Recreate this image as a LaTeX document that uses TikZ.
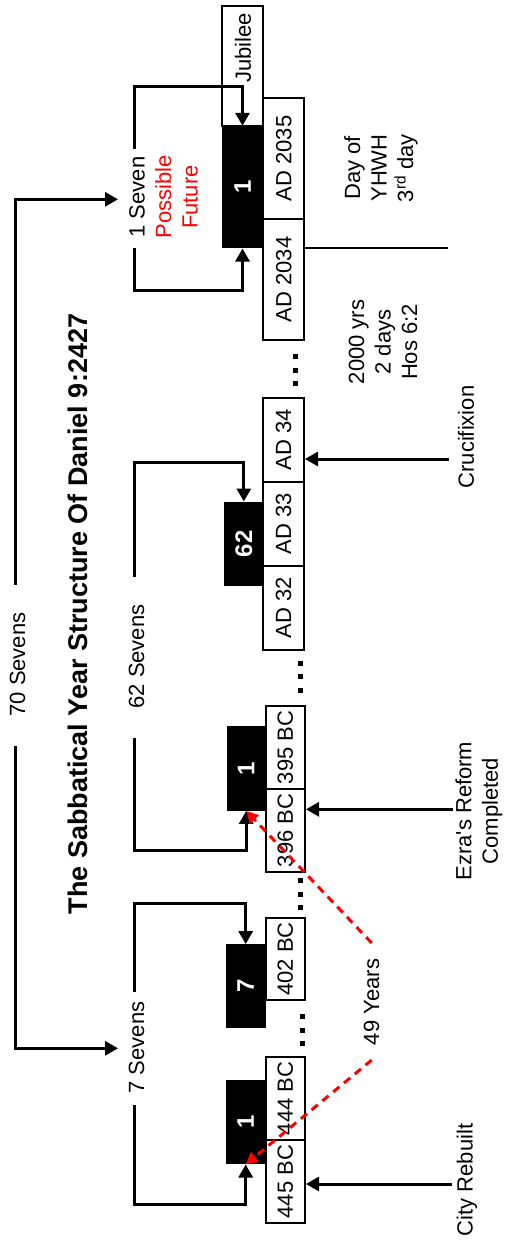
\documentclass[tikz,border=0pt]{standalone}
\usepackage{fontspec}
\setmainfont{Liberation Sans}
\usepackage{graphicx}
\usetikzlibrary{arrows.meta}
\begin{document}
\begin{tikzpicture}[x=1pt,y=-1pt,
  font=\fontsize{22}{26.5}\selectfont,
  blk/.style={fill=black,inner sep=0pt,text=white,font=\fontsize{24}{28}\selectfont\bfseries},
  valbox/.style={draw=black,line width=2pt,fill=white,inner sep=0pt},
  brk/.style={line width=3pt},
  brkarrow/.style={line width=3pt,-{Triangle[length=13pt,width=14pt]}},
  evt/.style={line width=3pt,-{Triangle[length=13pt,width=14pt]}},
  lbl/.style={rotate=90,inner sep=0pt,align=center},
  dotm/.style={fill=black,minimum size=5pt,inner sep=0pt},
  redarrow/.style={red,line width=3pt,dash pattern=on 8pt off 6pt,-{Triangle[length=12pt,width=12pt]}}
]
\useasboundingbox[fill=white] (0,0) rectangle (505,1243);

% black boxes
\node[blk,minimum width=41.6pt,minimum height=122.3pt] (b1) at (242.5,187.15) {\rotatebox{90}{1}};
\node[blk,minimum width=39pt,minimum height=84.3pt] (b62) at (243.8,543.85) {\rotatebox{90}{62}};
\node[blk,minimum width=39pt,minimum height=84.7pt] (b1b) at (246.2,768.35) {\rotatebox{90}{1}};
\node[blk,minimum width=40pt,minimum height=83.4pt] (b7) at (245.7,986) {\rotatebox{90}{7}};
\node[blk,minimum width=40pt,minimum height=84.3pt] (b1c) at (245.7,1122.15) {\rotatebox{90}{1}};

% value boxes
\node[valbox,minimum width=41.6pt,minimum height=120.3pt] (jub) at (242.5,65.85) {};
\node[lbl] (jubt) at (243,48) {Jubilee};
\node[valbox,minimum width=41pt,minimum height=121.3pt] (ad2035) at (283.8,158.35) {\rotatebox{90}{AD 2035}};
\node[valbox,minimum width=41pt,minimum height=121pt] (ad2034) at (283.8,279.5) {\rotatebox{90}{AD 2034}};
\node[valbox,minimum width=40.7pt,minimum height=84pt] (ad34) at (283.65,439.7) {\rotatebox{90}{AD 34}};
\node[valbox,minimum width=40.7pt,minimum height=84pt] (ad33) at (283.65,523.7) {\rotatebox{90}{AD 33}};
\node[valbox,minimum width=40.7pt,minimum height=84pt] (ad32) at (283.65,607.7) {\rotatebox{90}{AD 32}};
\node[valbox,minimum width=39.3pt,minimum height=83pt] (bc395) at (285.35,747.5) {\rotatebox{90}{395 BC}};
\node[valbox,minimum width=39.3pt,minimum height=82.7pt] (bc396) at (285.35,830.35) {\rotatebox{90}{396 BC}};
\node[valbox,minimum width=39.3pt,minimum height=82.3pt] (bc402) at (285.35,958.85) {\rotatebox{90}{402 BC}};
\node[valbox,minimum width=39.3pt,minimum height=83.3pt] (bc444) at (285.35,1098.35) {\rotatebox{90}{444 BC}};
\node[valbox,minimum width=39.3pt,minimum height=83.3pt] (bc445) at (285.35,1181.65) {\rotatebox{90}{445 BC}};

% dots
\foreach \i/\x/\y in {a1/295.5/356,a2/295.5/370,a3/295.5/383.5,
  b1/300.7/663.3,b2/300.7/676.8,b3/300.7/690.5,
  c1/300.7/880.7,c2/300.7/894,c3/300.7/907.7,
  d1/302.3/1016.5,d2/302.3/1030,d3/302.3/1043.3}
  \node[dotm] (dot\i) at (\x,\y) {};

% text labels
\node[lbl] (title) at (78,614) {\fontsize{27}{32}\selectfont\bfseries The Sabbatical Year Structure Of Daniel 9:2427};
\node[lbl] (t70) at (17.5,664.5) {70 Sevens};
\node[lbl] (t62) at (136.5,656.5) {62 Sevens};
\node[lbl] (t7) at (136.5,1047.5) {7 Sevens};
\node[lbl] (t1) at (163.5,197) {1 Seven\\\textcolor{red}{Possible}\\\textcolor{red}{Future}};
\node[lbl] (tday) at (381,168) {Day of\\YHWH\\3\textsuperscript{rd} day};
\node[lbl] (t2000) at (383,342) {2000 yrs\\2 days\\Hos 6:2};
\node[lbl] (tcruc) at (466,437) {Crucifixion};
\node[lbl] (tezra) at (479,811) {Ezra\textquotesingle s Reform\\Completed};
\node[lbl] (tcity) at (467,1180) {City Rebuilt};
\node[lbl] (t49) at (371.5,1002) {49 Years};

% 70 sevens bracket
\coordinate (c70a) at (15.7,585);
\coordinate (c70b) at (15.7,745.7);
\coordinate (c70tip1) at (118,199.3);
\coordinate (c70tip2) at (118,1048.3);
\draw[brkarrow] (c70a) |- (c70tip1);
\draw[brkarrow] (c70b) |- (c70tip2);

% 1 seven bracket
\coordinate (s1a) at (134,149);
\coordinate (s1t) at (134,86);
\coordinate (s1b) at (134,248);
\coordinate (s1u) at (134,290);
\draw[brkarrow] (s1a) -- (s1t) -| (b1.north);
\draw[brkarrow] (s1b) -- (s1u) -| (b1.south);

% 62 sevens bracket
\coordinate (s62a) at (134,576.7);
\coordinate (s62t) at (134,462.3);
\coordinate (s62b) at (134,738);
\coordinate (s62u) at (134,850);
\draw[brkarrow] (s62a) -- (s62t) -| (b62.north);
\draw[brkarrow] (s62b) -- (s62u) -| (b1b.south);

% 7 sevens bracket
\coordinate (s7a) at (134,991.7);
\coordinate (s7t) at (134,903.3);
\coordinate (s7b) at (134,1105);
\coordinate (s7u) at (134,1204);
\draw[brkarrow] (s7a) -- (s7t) -| (b7.north);
\draw[brkarrow] (s7b) -- (s7u) -| (b1c.south);

% event arrows
\coordinate (ecruc) at (449,459);
\coordinate (eezra) at (453,809.3);
\coordinate (ecity) at (451.7,1184);
\coordinate (eline) at (448.3,247.7);
\draw[evt] (ecruc) -- (ecruc -| ad34.east);
\draw[evt] (eezra) -- (eezra -| bc396.east);
\draw[evt] (ecity) -- (ecity -| bc445.east);
\draw[line width=2pt] (eline -| ad2034.east) -- (eline);

% 49 years
\coordinate (r49a) at (371.7,943);
\coordinate (r49b) at (371.7,1060);
\draw[redarrow] (r49a) -- (b1b.south);
\draw[redarrow] (r49b) -- (b1c.south);
\end{tikzpicture}
\end{document}
